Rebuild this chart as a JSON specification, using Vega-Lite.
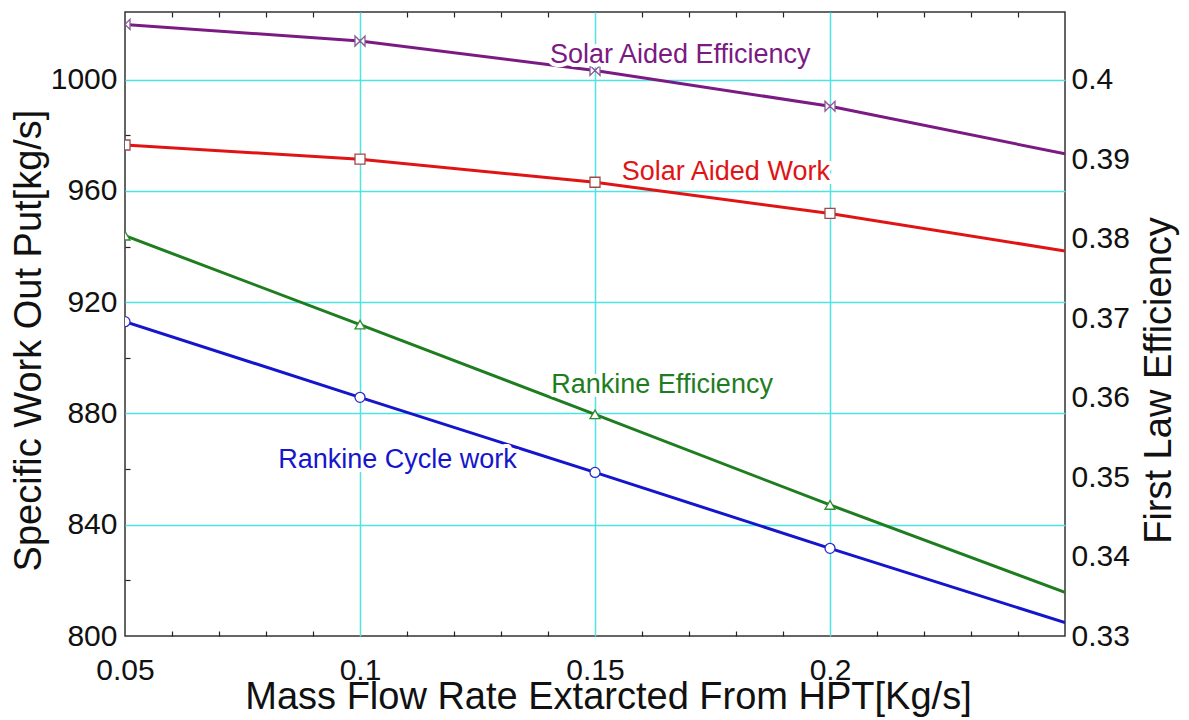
{
  "$schema": "https://vega.github.io/schema/vega-lite/v6.json",
  "width": 940,
  "height": 624,
  "autosize": {"type": "none"},
  "padding": {"left": 125, "top": 12, "right": 124, "bottom": 84},
  "background": "white",
  "config": {
    "font": "Liberation Sans",
    "view": {"stroke": "#333333", "strokeWidth": 1.5},
    "axis": {
      "domain": false,
      "labelFont": "Liberation Sans",
      "labelFontSize": 30,
      "labelColor": "#111111",
      "labelFlush": false,
      "labelOverlap": false,
      "titleFont": "Liberation Sans",
      "titleFontSize": 38,
      "titleFontWeight": "normal",
      "titleColor": "#111111",
      "gridWidth": 1.5,
      "tickWidth": 1.2
    }
  },
  "datasets": {
    "work": [
      {"series": "Solar Aided Work", "rate": 0.05, "work": 976.5},
      {"series": "Solar Aided Work", "rate": 0.1, "work": 971.4},
      {"series": "Solar Aided Work", "rate": 0.15, "work": 963.1},
      {"series": "Solar Aided Work", "rate": 0.2, "work": 951.9},
      {"series": "Solar Aided Work", "rate": 0.25, "work": 938.4},
      {"series": "Rankine Cycle work", "rate": 0.05, "work": 913.0},
      {"series": "Rankine Cycle work", "rate": 0.1, "work": 885.8},
      {"series": "Rankine Cycle work", "rate": 0.15, "work": 858.8},
      {"series": "Rankine Cycle work", "rate": 0.2, "work": 831.5},
      {"series": "Rankine Cycle work", "rate": 0.25, "work": 804.8}
    ],
    "efficiency": [
      {"series": "Solar Aided Efficiency", "rate": 0.05, "eff": 0.4070},
      {"series": "Solar Aided Efficiency", "rate": 0.1, "eff": 0.4049},
      {"series": "Solar Aided Efficiency", "rate": 0.15, "eff": 0.4012},
      {"series": "Solar Aided Efficiency", "rate": 0.2, "eff": 0.3967},
      {"series": "Solar Aided Efficiency", "rate": 0.25, "eff": 0.3907},
      {"series": "Rankine Efficiency", "rate": 0.05, "eff": 0.3804},
      {"series": "Rankine Efficiency", "rate": 0.1, "eff": 0.3692},
      {"series": "Rankine Efficiency", "rate": 0.15, "eff": 0.3579},
      {"series": "Rankine Efficiency", "rate": 0.2, "eff": 0.3465},
      {"series": "Rankine Efficiency", "rate": 0.25, "eff": 0.3355}
    ],
    "notes": [
      {"series": "Solar Aided Efficiency", "text": "Solar Aided Efficiency", "rate": 0.1404, "work": 1005.8},
      {"series": "Solar Aided Work", "text": "Solar Aided Work", "rate": 0.1557, "work": 963.9},
      {"series": "Rankine Efficiency", "text": "Rankine Efficiency", "rate": 0.1407, "work": 887.4},
      {"series": "Rankine Cycle work", "text": "Rankine Cycle work", "rate": 0.0826, "work": 860.3}
    ]
  },
  "layer": [
    {
      "data": {"name": "work"},
      "encoding": {
        "x": {
          "field": "rate",
          "type": "quantitative",
          "scale": {"domain": [0.05, 0.25], "nice": false, "zero": false},
          "axis": {
            "orient": "bottom",
            "values": [0.05, 0.06, 0.07, 0.08, 0.09, 0.1, 0.11, 0.12, 0.13, 0.14, 0.15, 0.16, 0.17, 0.18, 0.19, 0.2, 0.21, 0.22, 0.23, 0.24, 0.25],
            "format": "~g",
            "labelExpr": "abs(datum.value * 20 - round(datum.value * 20)) < 1e-6 && datum.value < 0.24 ? datum.label : ''",
            "labelPadding": 24,
            "tickSize": -5,
            "tickColor": {"condition": {"test": "abs(datum.value * 20 - round(datum.value * 20)) < 1e-6", "value": "transparent"}, "value": "#222222"},
            "grid": true,
            "gridColor": {"condition": {"test": "abs(datum.value * 20 - round(datum.value * 20)) < 1e-6 && datum.value > 0.06 && datum.value < 0.24", "value": "#4FE3E3"}, "value": "transparent"},
            "title": "Mass Flow Rate Extarcted From HPT[Kg/s]",
            "titleX": 483,
            "titleY": 72,
            "titleAlign": "center",
            "titleBaseline": "alphabetic",
            "titleAngle": 0
          }
        },
        "y": {
          "field": "work",
          "type": "quantitative",
          "scale": {"domain": [800, 1024.3], "nice": false, "zero": false},
          "axis": {
            "orient": "left",
            "values": [800, 820, 840, 860, 880, 900, 920, 940, 960, 980, 1000, 1020],
            "format": "d",
            "labelExpr": "datum.value % 40 === 0 ? datum.label : ''",
            "labelPadding": 13,
            "tickSize": -5,
            "tickColor": {"condition": {"test": "datum.value % 40 === 0", "value": "transparent"}, "value": "#222222"},
            "grid": true,
            "gridColor": {"condition": {"test": "datum.value % 40 === 0 && datum.value > 800", "value": "#4FE3E3"}, "value": "transparent"},
            "title": "Specific Work Out Put[kg/s]",
            "titleAngle": -90,
            "titleX": -85,
            "titleY": 328,
            "titleAlign": "center",
            "titleBaseline": "alphabetic"
          }
        }
      },
      "layer": [
        {
          "mark": {"type": "line", "strokeWidth": 3, "clip": true},
          "encoding": {
            "color": {
              "field": "series",
              "type": "nominal",
              "scale": {
                "domain": ["Solar Aided Efficiency", "Solar Aided Work", "Rankine Efficiency", "Rankine Cycle work"],
                "range": ["#7B1A83", "#E01414", "#1E7D1E", "#1515CC"]
              },
              "legend": null
            }
          }
        },
        {
          "transform": [{"filter": "datum.rate < 0.24"}],
          "mark": {"type": "point", "fill": "white", "fillOpacity": 1, "strokeWidth": 1.3, "opacity": 1, "clip": true},
          "encoding": {
            "stroke": {
              "field": "series",
              "type": "nominal",
              "scale": {
                "domain": ["Solar Aided Efficiency", "Solar Aided Work", "Rankine Efficiency", "Rankine Cycle work"],
                "range": ["#8A5A96", "#A04A4A", "#2E8B2E", "#2A2ACC"]
              },
              "legend": null
            },
            "shape": {
              "field": "series",
              "type": "nominal",
              "scale": {
                "domain": ["Solar Aided Efficiency", "Solar Aided Work", "Rankine Efficiency", "Rankine Cycle work"],
                "range": ["M-1,-1L1,1L1,-1L-1,1Z", "square", "triangle-up", "circle"]
              },
              "legend": null
            },
            "size": {"value": 100}
          }
        }
      ]
    },
    {
      "data": {"name": "efficiency"},
      "encoding": {
        "x": {
          "field": "rate",
          "type": "quantitative",
          "scale": {"domain": [0.05, 0.25], "nice": false, "zero": false},
          "axis": {
            "orient": "top",
            "values": [0.05, 0.06, 0.07, 0.08, 0.09, 0.1, 0.11, 0.12, 0.13, 0.14, 0.15, 0.16, 0.17, 0.18, 0.19, 0.2, 0.21, 0.22, 0.23, 0.24, 0.25],
            "labels": false,
            "grid": false,
            "tickSize": -5,
            "tickColor": {"condition": {"test": "abs(datum.value * 20 - round(datum.value * 20)) < 1e-6", "value": "transparent"}, "value": "#222222"},
            "title": null
          }
        },
        "y": {
          "field": "eff",
          "type": "quantitative",
          "scale": {"domain": [0.33, 0.40856], "nice": false, "zero": false},
          "axis": {
            "orient": "right",
            "values": [0.33, 0.34, 0.35, 0.36, 0.37, 0.38, 0.39, 0.4],
            "format": "~g",
            "ticks": false,
            "labelPadding": 6,
            "grid": false,
            "title": "First Law Efficiency",
            "titleAngle": 270,
            "titleX": 105,
            "titleY": 368,
            "titleAlign": "center",
            "titleBaseline": "alphabetic"
          }
        }
      },
      "layer": [
        {
          "mark": {"type": "line", "strokeWidth": 3, "clip": true},
          "encoding": {
            "color": {"field": "series", "type": "nominal", "legend": null}
          }
        },
        {
          "transform": [{"filter": "datum.rate < 0.24"}],
          "mark": {"type": "point", "fill": "white", "fillOpacity": 1, "strokeWidth": 1.3, "opacity": 1, "clip": true},
          "encoding": {
            "stroke": {"field": "series", "type": "nominal", "legend": null},
            "shape": {"field": "series", "type": "nominal", "legend": null},
            "size": {"value": 100}
          }
        }
      ]
    },
    {
      "data": {"name": "notes"},
      "encoding": {
        "x": {"field": "rate", "type": "quantitative", "axis": null},
        "y": {
          "field": "work",
          "type": "quantitative",
          "scale": {"domain": [800, 1024.3], "nice": false, "zero": false},
          "axis": null
        },
        "text": {"field": "text"}
      },
      "layer": [
        {
          "mark": {"type": "text", "align": "left", "baseline": "alphabetic", "font": "Liberation Sans", "fontSize": 27, "fill": "white", "stroke": "white", "strokeWidth": 8, "strokeJoin": "round"}
        },
        {
          "mark": {"type": "text", "align": "left", "baseline": "alphabetic", "font": "Liberation Sans", "fontSize": 27},
          "encoding": {
            "color": {"field": "series", "type": "nominal", "legend": null}
          }
        }
      ]
    }
  ],
  "resolve": {"scale": {"y": "independent"}}
}
